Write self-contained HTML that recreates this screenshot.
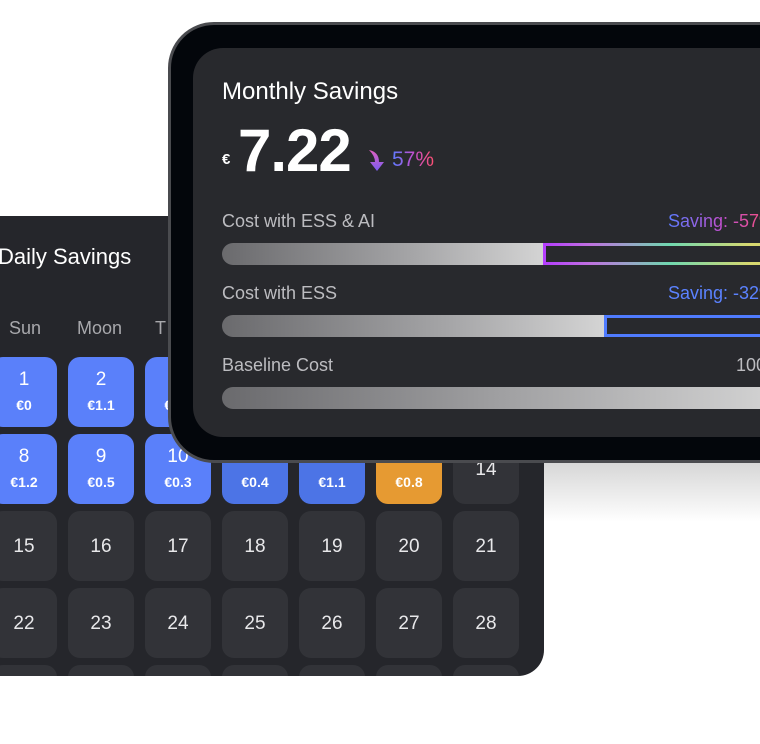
<!DOCTYPE html>
<html><head><meta charset="utf-8"><style>
*{margin:0;padding:0;box-sizing:border-box}
body{width:760px;height:744px;background:#fff;position:relative;overflow:hidden;font-family:"Liberation Sans",sans-serif}
.abs{position:absolute;white-space:nowrap}
#daily{left:-40px;top:216px;width:584px;height:460px;background:#25262b;border-radius:0 0 26px 0;overflow:hidden}
.cell{position:absolute;width:66px;height:70px;border-radius:12px;background:#323338;color:#e8e8ea;text-align:center;font-size:19px}
.cell.b{background:#5a80fa;color:#fff}
.cell.d{background:#4c74e6;color:#fff}
.cell.o{background:#e69a32;color:#fff}
.cell .n{position:absolute;left:0;right:0;top:12px}
.cell .v{position:absolute;left:0;right:0;top:40px;font-size:14px;font-weight:bold}
.cell.plain .n{top:25px}
#shadow{left:544px;top:462px;width:216px;height:60px;background:linear-gradient(#d6d6d6,#fff)}
#bezel{left:168px;top:22px;width:640px;height:441px;background:#03060b;border:3px solid #4a4b4f;border-radius:46px}
#panel{left:193px;top:48px;width:600px;height:389px;background:#28292d;border-radius:30px}
.lbl{color:#bcbcc0;font-size:18px}
.bar{position:absolute;left:222px;height:22px;border-radius:11px 0 0 11px;background:linear-gradient(90deg,#6a6a6d,#a6a6a8 60%,#d4d4d4)}
.grad{background-image:linear-gradient(90deg,#5b7bff,#c050d0,#ff4f70);-webkit-background-clip:text;background-clip:text;color:transparent}
</style></head><body>
<div id="shadow" class="abs"></div>
<div id="daily" class="abs">
  <div class="abs" style="left:38px;top:28px;color:#fff;font-size:22px">Daily Savings</div>
  <div class="abs" style="left:49px;top:102px;color:#a8a8ac;font-size:18px">Sun</div>
  <div class="abs" style="left:117px;top:102px;color:#a8a8ac;font-size:18px">Moon</div>
  <div class="abs" style="left:195px;top:102px;color:#a8a8ac;font-size:18px">T</div>
</div>
<script>
(function(){
var d=document.getElementById('daily');
var vals={1:'€0',2:'€1.1',3:'€0.7',4:'€0.4',5:'€0.6',6:'€0.9',7:'€0.2',8:'€1.2',9:'€0.5',10:'€0.3',11:'€0.4',12:'€1.1',13:'€0.8'};
var h='';
for(var r=0;r<5;r++)for(var c=0;c<7;c++){
 var n=r*7+c+1;
 var x=-9+c*77+40, y=141+r*77;
 var cls='cell';
 if(n<=10)cls+=' b'; else if(n<=12)cls+=' d'; else if(n==13)cls+=' o'; else cls+=' plain';
 var lab=n<=31?n:'';
 h+='<div class="'+cls+'" style="left:'+x+'px;top:'+y+'px"><div class="n">'+lab+'</div>'+(vals[n]?'<div class="v">'+vals[n]+'</div>':'')+'</div>';
}
d.insertAdjacentHTML('beforeend',h);
})();
</script>
<div id="bezel" class="abs"></div>
<div id="panel" class="abs"></div>
<div class="abs" style="left:222px;top:78px;color:#fff;font-size:24px">Monthly Savings</div>
<div class="abs" style="left:222px;top:151px;color:#fff;font-size:15px;font-weight:bold">€</div>
<div class="abs" style="left:238px;top:116px;color:#fff;font-size:60px;font-weight:bold;letter-spacing:-1px">7.22</div>
<svg class="abs" style="left:367px;top:148px" width="20" height="24" viewBox="0 0 20 24"><defs><linearGradient id="ag" x1="0" y1="0" x2="0" y2="1"><stop offset="0" stop-color="#e060c0"/><stop offset="1" stop-color="#7a5cf0"/></linearGradient></defs><path d="M2 2 Q12 4 12 14 L17 14 L10 23 L3 14 L8 14 Q8 8 2 2Z" fill="url(#ag)"/></svg>
<div class="abs grad" style="left:392px;top:148px;font-size:21px">57%</div>

<div class="abs lbl" style="left:222px;top:211px">Cost with ESS &amp; AI</div>
<div class="abs grad" style="left:668px;top:211px;font-size:18px">Saving: -57%</div>
<div class="bar" style="top:243px;width:322px"></div>
<div class="abs" style="left:543px;top:243px;width:230px;height:22px;padding:3px;background:linear-gradient(90deg,#b43cff,#c070e0 20%,#70d8b0 55%,#d8d870 90%)"><div style="width:100%;height:100%;background:#28292d"></div></div>

<div class="abs lbl" style="left:222px;top:283px">Cost with ESS</div>
<div class="abs" style="left:668px;top:283px;font-size:18px;color:#5b82ff">Saving: -32%</div>
<div class="bar" style="top:315px;width:382px"></div>
<div class="abs" style="left:604px;top:315px;width:170px;height:22px;border:3px solid #4f7bff;background:#28292d"></div>

<div class="abs lbl" style="left:222px;top:355px">Baseline Cost</div>
<div class="abs lbl" style="left:736px;top:355px">100%</div>
<div class="bar" style="top:387px;width:560px;background:linear-gradient(90deg,#6a6a6d,#a0a0a2 50%,#d4d4d4)"></div>
</body></html>
